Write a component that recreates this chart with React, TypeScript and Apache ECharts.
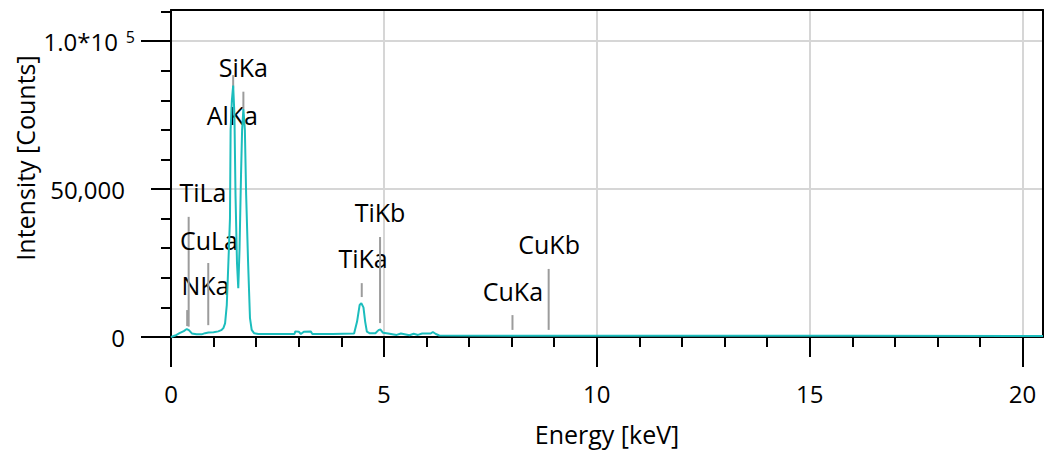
import React, { useEffect, useRef } from 'react';
import * as echarts from 'echarts';

// Spectrum (energy in keV, intensity in counts)
const energies = [
  0.0, 0.1, 0.2, 0.3, 0.37, 0.42, 0.49, 0.6, 0.72, 0.8, 0.88, 1.0, 1.11, 1.18, 1.23, 1.27,
  1.31, 1.35, 1.385, 1.4, 1.43, 1.46, 1.49, 1.515, 1.55, 1.58, 1.61, 1.645, 1.67, 1.7, 1.735,
  1.765, 1.81, 1.855, 1.895, 1.95, 2.05, 2.5, 2.9, 2.92, 3.0, 3.05, 3.12, 3.28, 3.32, 3.8,
  4.3, 4.37, 4.43, 4.47, 4.52, 4.56, 4.6, 4.67, 4.8, 4.88, 4.92, 4.98, 5.1, 5.3, 5.4, 5.6,
  5.7, 5.8, 5.9, 6.1, 6.15, 6.22, 6.3, 8.0, 12.0, 16.0, 20.48,
];
const counts = [
  0, 500, 1300, 2000, 2700, 2300, 1200, 900, 900, 1300, 1500, 1600, 1900, 2300, 3000, 4600,
  10800, 26000, 40000, 70000, 80000, 85000, 75000, 48000, 25000, 16500, 30000, 55000, 70000, 77000, 70000,
  48000, 25400, 6400, 2400, 1300, 1000, 1000, 1000, 1900, 1800, 1000, 1800, 1900, 1000, 1000,
  1200, 5200, 10800, 11400, 10000, 5200, 1800, 1250, 1300, 2400, 2500, 1400, 1200, 700, 1200, 600,
  1100, 700, 1200, 1200, 1700, 1000, 500, 450, 400, 400, 350,
];

// Element line markers
const lineNames = ['NKa', 'TiLa', 'CuLa', 'AlKa', 'SiKa', 'TiKa', 'TiKb', 'CuKa', 'CuKb'];
const lineEnergies = [0.38, 0.415, 0.875, 1.46, 1.70, 4.48, 4.91, 8.02, 8.87];
const lineTops = [9100, 40600, 25000, 88500, 82900, 18200, 33800, 7400, 23000];
const lineBottoms = [3700, 3500, 4000, 84000, 77000, 13500, 4700, 2400, 2400];
const labelEnergies = [0.81, 0.75, 0.89, 1.44, 1.70, 4.51, 4.91, 8.03, 8.88];
const labelCounts = [17600, 49000, 32800, 75000, 91200, 26700, 42200, 15500, 31400];

// Axis ticks and labels
const xMajorTicks = [0, 5, 10, 15, 20];
const xLongTicks = [0, 10, 20];
const yTickValues = [0, 50000, 100000];
const yTickLabels = ['0', '50,000', '1.0*10'];
const yExponentLabel = '5';
const yLongTicks = [0, 100000];

const FONT = '"Open Sans", "Noto Sans", sans-serif';
const BLACK = '#000000';

export default function App() {
  const ref = useRef<HTMLDivElement>(null);

  useEffect(() => {
    document.body.style.margin = '0';
    const chart = echarts.init(ref.current!, null, { renderer: 'svg' });

    const markerData = lineNames.map((_, i) => [
      lineEnergies[i], lineTops[i], lineBottoms[i], labelEnergies[i], labelCounts[i],
    ]);

    const xMin = 0;
    const xMax = 20.48;
    const yMin = 0;
    const yMax = 110500;

    const hiddenX = {
      type: 'value', min: xMin, max: xMax,
      axisLabel: { show: false }, splitLine: { show: false },
    };
    const hiddenY = {
      type: 'value', min: yMin, max: yMax,
      axisLabel: { show: false }, splitLine: { show: false },
    };

    const option: any = {
      animation: false,
      backgroundColor: '#ffffff',
      grid: { left: 171, right: 1, top: 10, bottom: 115, containLabel: false, outerBoundsMode: 'none' },
      xAxis: [
        {
          type: 'value', min: xMin, max: xMax, interval: 5, position: 'bottom',
          name: 'Energy [keV]', nameLocation: 'middle', nameGap: 84,
          nameTextStyle: { color: BLACK, fontSize: 25, fontFamily: FONT },
          axisLine: { onZero: false, lineStyle: { color: BLACK, width: 2 } },
          axisTick: { customValues: xMajorTicks, length: 20, lineStyle: { color: BLACK, width: 2 } },
          minorTick: { show: true, splitNumber: 5, length: 10, lineStyle: { color: BLACK, width: 2 } },
          axisLabel: { customValues: xMajorTicks, color: BLACK, fontSize: 24, fontFamily: FONT, margin: 44 },
          splitLine: { show: true, lineStyle: { color: '#d6d6d6', width: 2 } },
        },
        {
          ...hiddenX, position: 'bottom',
          axisLine: { show: false, onZero: false },
          axisTick: { customValues: xLongTicks, length: 30, lineStyle: { color: BLACK, width: 2 } },
        },
        {
          ...hiddenX, position: 'top',
          axisLine: { show: true, onZero: false, lineStyle: { color: BLACK, width: 2 } },
          axisTick: { show: false },
        },
      ],
      yAxis: [
        {
          type: 'value', min: yMin, max: yMax, interval: 50000, position: 'left',
          axisLine: { onZero: false, lineStyle: { color: BLACK, width: 2 } },
          axisTick: { customValues: yTickValues, length: 20, lineStyle: { color: BLACK, width: 2 } },
          minorTick: { show: true, splitNumber: 5, length: 10, lineStyle: { color: BLACK, width: 2 } },
          axisLabel: {
            customValues: yTickValues, margin: 36, color: BLACK, fontSize: 24, fontFamily: FONT,
            formatter: (v: number) => {
              const i = yTickValues.indexOf(v);
              if (i < 0) return '';
              if (i === yTickValues.length - 1) {
                return `{b|${yTickLabels[i]}}{s|${yExponentLabel}}`;
              }
              return `{n|${yTickLabels[i]}}`;
            },
            rich: {
              n: { fontSize: 24, fontFamily: FONT, color: BLACK, padding: [0, 10, 0, 0] },
              b: { fontSize: 24, fontFamily: FONT, color: BLACK, lineHeight: 24, verticalAlign: 'middle' },
              s: { fontSize: 16, fontFamily: FONT, color: BLACK, lineHeight: 16, verticalAlign: 'top', padding: [0, 0, 28, 8] },
            },
          },
          splitLine: { show: true, lineStyle: { color: '#d6d6d6', width: 2 } },
        },
        {
          ...hiddenY, position: 'left',
          axisLine: { show: false, onZero: false },
          axisTick: { customValues: yLongTicks, length: 30, lineStyle: { color: BLACK, width: 2 } },
        },
        {
          ...hiddenY, position: 'right',
          axisLine: { show: true, onZero: false, lineStyle: { color: BLACK, width: 2 } },
          axisTick: { show: false },
        },
      ],
      graphic: [
        {
          type: 'text', x: 25, y: 158, rotation: Math.PI / 2,
          style: {
            text: 'Intensity [Counts]', fill: BLACK, font: `25px ${FONT}`,
            align: 'center', verticalAlign: 'middle',
          },
        },
      ],
      series: [
        {
          type: 'custom',
          xAxisIndex: 0, yAxisIndex: 0,
          z: 2,
          clip: false,
          data: markerData,
          renderItem: (params: any, api: any) => {
            const idx = params.dataIndex;
            const p1 = api.coord([api.value(0), api.value(1)]);
            const p2 = api.coord([api.value(0), api.value(2)]);
            const pl = api.coord([api.value(3), api.value(4)]);
            return {
              type: 'group',
              children: [
                {
                  type: 'line',
                  shape: { x1: p1[0], y1: p1[1], x2: p2[0], y2: p2[1] },
                  style: { stroke: '#9c9c9c', lineWidth: 2 },
                },
                {
                  type: 'text', x: pl[0], y: pl[1],
                  style: {
                    text: lineNames[idx], fill: BLACK, font: `25px ${FONT}`,
                    align: 'center', verticalAlign: 'middle',
                  },
                },
              ],
            };
          },
        },
        {
          type: 'line',
          xAxisIndex: 0, yAxisIndex: 0,
          z: 3,
          data: energies.map((e, i) => [e, counts[i]]),
          showSymbol: false,
          symbol: 'none',
          lineStyle: { color: '#1cbdbd', width: 2 },
          itemStyle: { color: '#1cbdbd' },
        },
      ],
    };

    chart.setOption(option);
    return () => chart.dispose();
  }, []);

  return <div ref={ref} style={{ width: 1044, height: 452 }} />;
}
